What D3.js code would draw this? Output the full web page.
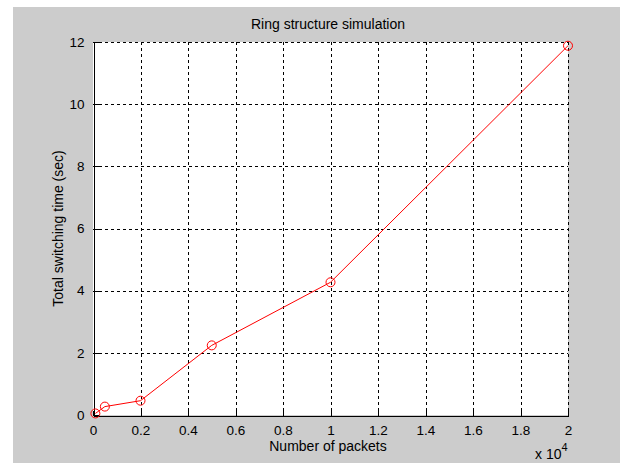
<!DOCTYPE html>
<html>
<head>
<meta charset="utf-8">
<script src="https://cdn.jsdelivr.net/npm/d3@7"></script>
<style>
  body { margin: 0; background: #fff; }
  svg text { font-family: Arial, "Liberation Sans", sans-serif; fill: #000; }
</style>
</head>
<body>
<svg id="chart" width="621" height="463"></svg>
<script>
// Data
var packets = [100, 500, 2000, 5000, 10000, 20000];
var switch_time = [0.05, 0.27, 0.46, 2.24, 4.27, 11.88];
var x_ticks = [0, 0.2, 0.4, 0.6, 0.8, 1, 1.2, 1.4, 1.6, 1.8, 2];  // x 10^4
var y_ticks = [0, 2, 4, 6, 8, 10, 12];

var svg = d3.select("#chart");

// Figure background (gray panel)
svg.append("rect")
    .attr("x", 13).attr("y", 7)
    .attr("width", 607).attr("height", 456)
    .attr("fill", "#cccccc");

var plot = { left: 93, top: 42, right: 568, bottom: 415 };

var x = d3.scaleLinear().domain([0, 20000]).range([plot.left, plot.right]);
var y = d3.scaleLinear().domain([0, 12]).range([plot.bottom, plot.top]);

svg.append("rect")
    .attr("x", plot.left).attr("y", plot.top)
    .attr("width", plot.right - plot.left)
    .attr("height", plot.bottom - plot.top)
    .attr("fill", "#fff");

// Grid lines (dashed)
var grid = svg.append("g")
    .attr("stroke", "#000")
    .attr("stroke-width", 1)
    .attr("stroke-dasharray", "3,3")
    .attr("shape-rendering", "crispEdges");

grid.selectAll("line.vx")
    .data(x_ticks.slice(1))
  .enter().append("line")
    .attr("x1", function (d) { return Math.round(x(d * 1e4)) + 0.5; })
    .attr("x2", function (d) { return Math.round(x(d * 1e4)) + 0.5; })
    .attr("y1", plot.top)
    .attr("y2", plot.bottom);

grid.selectAll("line.hy")
    .data(y_ticks.slice(1))
  .enter().append("line")
    .attr("x1", plot.left)
    .attr("x2", plot.right)
    .attr("y1", function (d) { return Math.round(y(d)) + 0.5; })
    .attr("y2", function (d) { return Math.round(y(d)) + 0.5; });

// Axes with inward ticks
var x_axis = d3.axisBottom(x)
    .tickValues(x_ticks.map(function (d) { return d * 1e4; }))
    .tickFormat(function (d) { return d3.format("~g")(d / 1e4); })
    .tickSizeInner(-5).tickSizeOuter(0).tickPadding(10);

var y_axis = d3.axisLeft(y)
    .tickValues(y_ticks)
    .tickSizeInner(-5).tickSizeOuter(0).tickPadding(9);

var gx = svg.append("g")
    .attr("transform", "translate(0," + (plot.bottom + 0.5) + ")")
    .call(x_axis);
var gy = svg.append("g")
    .attr("transform", "translate(" + (plot.left + 0.5) + ",0)")
    .call(y_axis);

[gx, gy].forEach(function (g) {
    g.selectAll("path, line").attr("stroke", "#000").attr("shape-rendering", "crispEdges");
    g.selectAll("text").attr("font-size", "13.5px").attr("font-family", "Arial, 'Liberation Sans', sans-serif").attr("fill", "#000");
});

// Data line and markers
var line = d3.line()
    .x(function (d) { return x(d[0]); })
    .y(function (d) { return y(d[1]); });

var pts = d3.zip(packets, switch_time);

svg.append("path")
    .datum(pts)
    .attr("d", line)
    .attr("fill", "none")
    .attr("stroke", "#ff0000")
    .attr("stroke-width", 1);

svg.selectAll("circle.pt")
    .data(pts)
  .enter().append("circle")
    .attr("cx", function (d) { return x(d[0]); })
    .attr("cy", function (d) { return y(d[1]); })
    .attr("r", 4.5)
    .attr("fill", "none")
    .attr("stroke", "#ff0000")
    .attr("stroke-width", 1);

// Texts
svg.append("text")
    .attr("x", 328).attr("y", 29)
    .attr("text-anchor", "middle")
    .attr("font-size", "14px")
    .text("Ring structure simulation");

svg.append("text")
    .attr("x", 328).attr("y", 451)
    .attr("text-anchor", "middle")
    .attr("font-size", "14px")
    .text("Number of packets");

svg.append("text")
    .attr("transform", "translate(63," + ((plot.top + plot.bottom) / 2) + ") rotate(-90)")
    .attr("text-anchor", "middle")
    .attr("font-size", "14px")
    .text("Total switching time (sec)");

var exp = svg.append("text")
    .attr("x", 535).attr("y", 459)
    .attr("font-size", "14px");
exp.append("tspan").text("x 10");
exp.append("tspan").attr("dy", -8).attr("font-size", "11px").text("4");
</script>
</body>
</html>
